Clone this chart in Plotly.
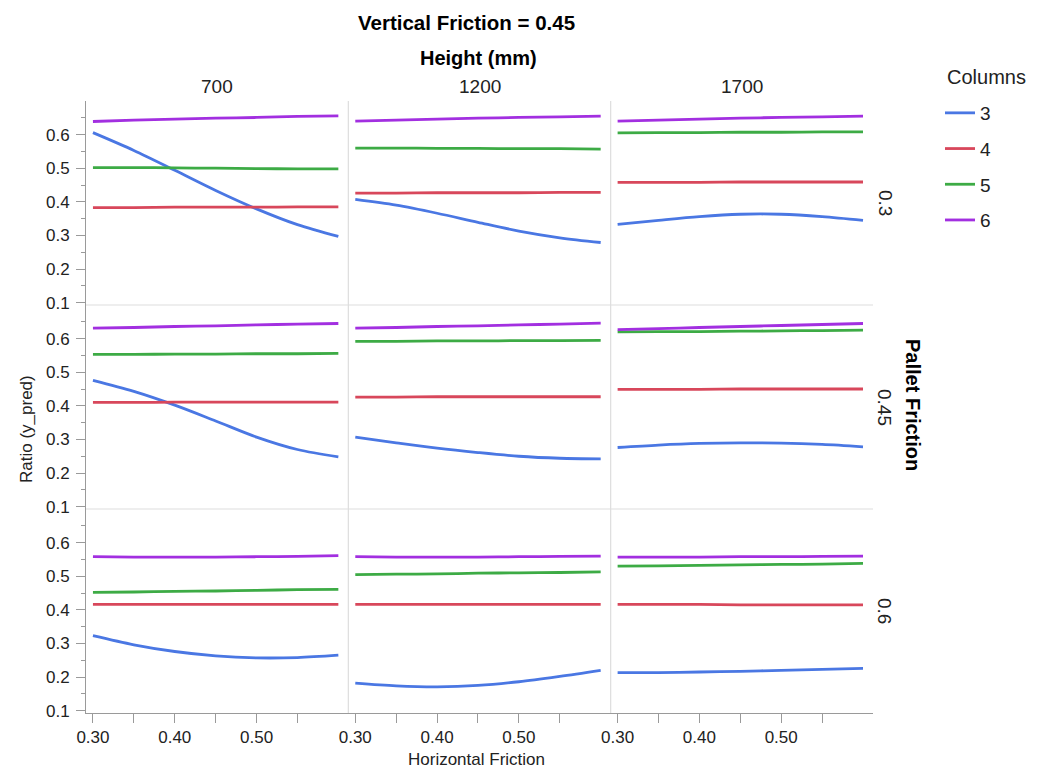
import plotly.graph_objects as go
from plotly.subplots import make_subplots

# ---------------- data ----------------
horizontal_friction = [0.30, 0.35, 0.40, 0.45, 0.50, 0.55, 0.60]
heights_mm = [700, 1200, 1700]
pallet_friction = ["0.3", "0.45", "0.6"]
columns = [3, 4, 5, 6]
series_colors = ["#4a77e3", "#d8475b", "#3dab45", "#a22fe0"]

# each list: one row per height (700, 1200, 1700), values along horizontal friction
ratio_c3_p030 = [[0.606, 0.553, 0.494, 0.434, 0.379, 0.332, 0.297],
                 [0.407, 0.390, 0.366, 0.339, 0.313, 0.293, 0.279],
                 [0.333, 0.345, 0.356, 0.363, 0.363, 0.356, 0.345]]
ratio_c4_p030 = [[0.383, 0.383, 0.384, 0.384, 0.384, 0.385, 0.385],
                 [0.426, 0.426, 0.427, 0.427, 0.427, 0.428, 0.428],
                 [0.458, 0.458, 0.458, 0.459, 0.459, 0.459, 0.459]]
ratio_c5_p030 = [[0.502, 0.502, 0.501, 0.500, 0.499, 0.498, 0.498],
                 [0.560, 0.560, 0.559, 0.559, 0.558, 0.558, 0.557],
                 [0.605, 0.606, 0.606, 0.607, 0.607, 0.608, 0.608]]
ratio_c6_p030 = [[0.639, 0.643, 0.646, 0.649, 0.651, 0.654, 0.656],
                 [0.640, 0.643, 0.646, 0.649, 0.651, 0.653, 0.655],
                 [0.640, 0.643, 0.646, 0.649, 0.651, 0.653, 0.655]]

ratio_c3_p045 = [[0.476, 0.443, 0.402, 0.355, 0.307, 0.270, 0.248],
                 [0.307, 0.290, 0.274, 0.261, 0.250, 0.244, 0.242],
                 [0.276, 0.283, 0.288, 0.290, 0.289, 0.285, 0.278]]
ratio_c4_p045 = [[0.410, 0.410, 0.411, 0.411, 0.411, 0.411, 0.411],
                 [0.426, 0.426, 0.427, 0.427, 0.427, 0.427, 0.427],
                 [0.449, 0.449, 0.449, 0.450, 0.450, 0.450, 0.450]]
ratio_c5_p045 = [[0.553, 0.553, 0.554, 0.554, 0.555, 0.555, 0.556],
                 [0.592, 0.592, 0.593, 0.593, 0.594, 0.594, 0.595],
                 [0.620, 0.621, 0.621, 0.622, 0.623, 0.624, 0.625]]
ratio_c6_p045 = [[0.631, 0.633, 0.636, 0.638, 0.641, 0.643, 0.645],
                 [0.631, 0.633, 0.636, 0.638, 0.641, 0.643, 0.646],
                 [0.627, 0.630, 0.633, 0.636, 0.639, 0.642, 0.645]]

ratio_c3_p060 = [[0.323, 0.296, 0.276, 0.263, 0.257, 0.258, 0.265],
                 [0.182, 0.174, 0.171, 0.175, 0.186, 0.202, 0.220],
                 [0.213, 0.213, 0.215, 0.217, 0.220, 0.223, 0.226]]
ratio_c4_p060 = [[0.416, 0.416, 0.416, 0.416, 0.416, 0.416, 0.416],
                 [0.416, 0.416, 0.416, 0.416, 0.416, 0.416, 0.416],
                 [0.416, 0.416, 0.416, 0.415, 0.415, 0.415, 0.415]]
ratio_c5_p060 = [[0.452, 0.453, 0.455, 0.456, 0.458, 0.460, 0.461],
                 [0.505, 0.506, 0.507, 0.509, 0.510, 0.511, 0.513],
                 [0.530, 0.531, 0.532, 0.534, 0.535, 0.536, 0.538]]
ratio_c6_p060 = [[0.558, 0.557, 0.557, 0.557, 0.558, 0.559, 0.561],
                 [0.558, 0.557, 0.557, 0.557, 0.558, 0.559, 0.560],
                 [0.557, 0.557, 0.557, 0.558, 0.558, 0.559, 0.560]]

rows_data = [
    [ratio_c3_p030, ratio_c4_p030, ratio_c5_p030, ratio_c6_p030],
    [ratio_c3_p045, ratio_c4_p045, ratio_c5_p045, ratio_c6_p045],
    [ratio_c3_p060, ratio_c4_p060, ratio_c5_p060, ratio_c6_p060],
]

y_major = [0.1, 0.2, 0.3, 0.4, 0.5, 0.6]
y_minor = [0.15, 0.25, 0.35, 0.45, 0.55, 0.65]
x_major = [0.30, 0.40, 0.50]
x_major_text = ["0.30", "0.40", "0.50"]
x_minor = [0.35, 0.45, 0.55]

# ---------------- figure ----------------
FONT = "Liberation Sans, Arial, Helvetica, sans-serif"
AXC = "#9a9a9a"
SEP = "#dddddd"
W, H = 1043, 769
L, R, T, B = 86, 170, 101, 56
pw, ph = W - L - R, H - T - B

fig = make_subplots(rows=3, cols=3, horizontal_spacing=0, vertical_spacing=0)

for r, row_series in enumerate(rows_data):
    for c in range(3):
        for k, col_count in enumerate(columns):
            fig.add_trace(
                go.Scatter(
                    x=horizontal_friction,
                    y=row_series[k][c],
                    mode="lines",
                    line=dict(color=series_colors[k], width=2.8, shape="spline", smoothing=0.9),
                    name=str(col_count),
                    legendgroup=str(col_count),
                    showlegend=(r == 0 and c == 0),
                    hovertemplate="%{x:.2f}, %{y:.3f}<extra></extra>",
                ),
                row=r + 1, col=c + 1,
            )

for r in range(1, 4):
    for c in range(1, 4):
        fig.update_xaxes(
            range=[0.2915, 0.6122], showgrid=False, zeroline=False,
            showline=(r == 3), linecolor=AXC, linewidth=1,
            ticks="outside" if r == 3 else "", ticklen=9, tickcolor=AXC,
            tickvals=x_major, ticktext=x_major_text,
            showticklabels=(r == 3),
            tickfont=dict(size=17, color="#222", family=FONT),
            minor=dict(tickvals=x_minor, ticks="outside" if r == 3 else "",
                       ticklen=9, tickcolor=AXC),
            row=r, col=c,
        )
        fig.update_yaxes(
            range=[0.093, 0.70], showgrid=False, zeroline=False,
            showline=(c == 1), linecolor=AXC, linewidth=1,
            ticks="outside" if c == 1 else "", ticklen=9, tickcolor=AXC,
            tickvals=y_major, showticklabels=(c == 1),
            tickfont=dict(size=17, color="#222", family=FONT),
            ticklabelstandoff=3,
            minor=dict(tickvals=y_minor, ticks="outside" if c == 1 else "",
                       ticklen=4, tickcolor=AXC),
            row=r, col=c,
        )

# panel separators
shapes = []
for xv in (1 / 3, 2 / 3):
    shapes.append(dict(type="line", xref="paper", yref="paper", x0=xv, x1=xv, y0=0, y1=1,
                       line=dict(color=SEP, width=1.2), layer="below"))
for yv in (1 / 3, 2 / 3):
    shapes.append(dict(type="line", xref="paper", yref="paper", x0=0, x1=1, y0=yv, y1=yv,
                       line=dict(color=SEP, width=1.2), layer="below"))


def ann(text, px, py, size, color="#222", angle=0, anchor="center"):
    return dict(text=text, x=(px - L) / pw, y=1 - (py - T) / ph, xref="paper", yref="paper",
                showarrow=False, textangle=angle, xanchor=anchor, yanchor="middle",
                font=dict(size=size, color=color, family=FONT))


annotations = [
    ann("<b>Vertical Friction = 0.45</b>", 466, 22, 20.5, "#000"),
    ann("<b>Height (mm)</b>", 478.5, 58, 20, "#000"),
    ann("Horizontal Friction", 476, 759, 17),
    ann("Ratio (y_pred)", 26, 429, 17, angle=-90),
    ann("<b>Pallet Friction</b>", 913, 405, 20, "#000", angle=90),
    ann("Columns", 945, 77, 20, anchor="left"),
]
for i, h in enumerate(heights_mm):
    annotations.append(ann(str(h), L + pw * (i + 0.5) / 3, 86, 19))
for i, p in enumerate(pallet_friction):
    annotations.append(ann(p, 885, T + ph * (i + 0.5) / 3, 19, angle=90))

fig.update_layout(
    width=W, height=H,
    margin=dict(l=L, r=R, t=T, b=B),
    paper_bgcolor="white", plot_bgcolor="white",
    font=dict(family=FONT, color="#222"),
    shapes=shapes,
    annotations=annotations,
    showlegend=True,
    legend=dict(
        font=dict(size=19, color="#222", family=FONT),
        xref="container", yref="container",
        x=940 / W, y=1 - 94 / H, xanchor="left", yanchor="top",
        tracegroupgap=8, bgcolor="rgba(0,0,0,0)", borderwidth=0,
        itemwidth=30,
    ),
)

fig.write_html("out.html")
